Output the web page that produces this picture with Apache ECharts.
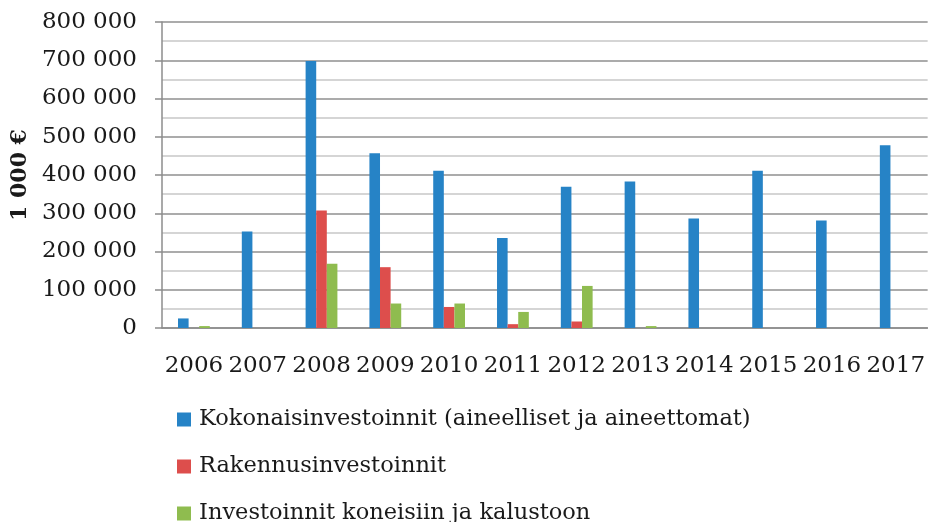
<!DOCTYPE html>
<html>
<head>
<meta charset="utf-8">
<script src="https://cdn.jsdelivr.net/npm/echarts@6/dist/echarts.min.js"></script>
<style>
html,body{margin:0;padding:0;background:#fff;}
#chart{width:928px;height:522px;}
</style>
</head>
<body>
<div id="chart"></div>
<script>
var categories = ['2006','2007','2008','2009','2010','2011','2012','2013','2014','2015','2016','2017'];
var seriesNames = ['Kokonaisinvestoinnit (aineelliset ja aineettomat)','Rakennusinvestoinnit','Investoinnit koneisiin ja kalustoon'];
var totalInvest = [25000, 252000, 698000, 457000, 411000, 235000, 369000, 383000, 286000, 411000, 281000, 478000];
var buildingInvest = [null, null, 307000, 159000, 55000, 10000, 17000, null, null, null, null, null];
var machineryInvest = [5000, null, 168000, 64000, 64000, 42000, 110000, 5000, null, null, null, null];
var colors = ['#2683C6', '#DD4E4C', '#8FBC4F'];

var font = 'DejaVu Serif';
function fmt(v){ return String(v).replace(/\B(?=(\d{3})+(?!\d))/g, ' '); }

var legendTops = [408, 455, 502];
var legends = seriesNames.map(function(n, i){
  return {
    orient: 'vertical',
    left: 177,
    top: legendTops[i],
    padding: 0,
    itemWidth: 14,
    itemHeight: 14,
    icon: 'rect',
    textStyle: {fontFamily: font, fontSize: 22.5, color: '#1a1a1a', padding: [0,0,0,3]},
    data: [n]
  };
});

var chart = echarts.init(document.getElementById('chart'));
chart.setOption({
  animation: false,
  color: colors,
  grid: {left: 162, right: 0, top: 22, bottom: 194, containLabel: false},
  legend: legends,
  xAxis: {
    type: 'category',
    data: categories,
    axisLine: {show: true, lineStyle: {color: '#8c8c8c', width: 1.5}},
    axisTick: {show: false},
    axisLabel: {fontFamily: font, fontSize: 23, color: '#1a1a1a', margin: 27, interval: 0}
  },
  yAxis: {
    type: 'value',
    min: 0, max: 800000, interval: 100000,
    name: '1 000 €',
    nameLocation: 'middle',
    nameGap: 124,
    nameTextStyle: {fontFamily: font, fontSize: 22, fontWeight: 'bold', color: '#1a1a1a'},
    axisLine: {show: true, lineStyle: {color: '#8c8c8c', width: 1.5}},
    axisTick: {show: true, length: 7, lineStyle: {color: '#8c8c8c', width: 1.5}},
    axisLabel: {fontFamily: font, fontSize: 23, color: '#1a1a1a', margin: 25, formatter: fmt},
    splitLine: {show: true, lineStyle: {color: '#8f8f8f', width: 1.5}},
    minorTick: {show: false, splitNumber: 2},
    minorSplitLine: {show: true, lineStyle: {color: '#c8c8c8', width: 1.5}}
  },
  series: [
    {name: seriesNames[0], type: 'bar', data: totalInvest, barWidth: 10.6, barGap: '0%'},
    {name: seriesNames[1], type: 'bar', data: buildingInvest, barWidth: 10.6, barGap: '0%'},
    {name: seriesNames[2], type: 'bar', data: machineryInvest, barWidth: 10.6, barGap: '0%'}
  ]
});
</script>
</body>
</html>
